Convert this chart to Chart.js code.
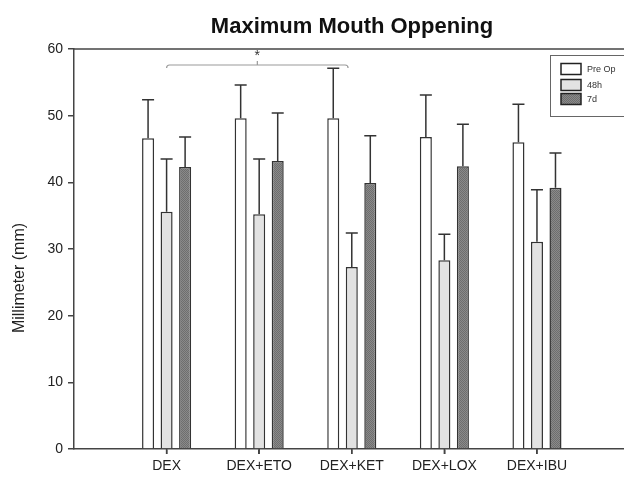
<!DOCTYPE html>
<html>
<head>
<meta charset="utf-8">
<script src="https://cdn.jsdelivr.net/npm/chart.js@4.4.1/dist/chart.umd.min.js"></script>
<style>
  html, body { margin: 0; padding: 0; background: #fff; }
  #wrap { width: 624px; height: 477px; }
</style>
</head>
<body>
<div id="wrap"><canvas id="mouthChart"></canvas></div>
<script>
// groups and series
const groups = ['DEX', 'DEX+ETO', 'DEX+KET', 'DEX+LOX', 'DEX+IBU'];
const preOp = [46.6, 49.6, 49.6, 46.8, 46.0];
const h48 = [35.6, 35.2, 27.3, 28.3, 31.1];
const d7 = [42.3, 43.2, 39.9, 42.4, 39.2];
// upper error (SD)
const preOpErr = [5.8, 5.0, 7.5, 6.3, 5.7];
const h48Err = [7.9, 8.3, 5.1, 3.9, 7.8];
const d7Err = [4.5, 7.2, 7.1, 6.3, 5.2];
const yTicks = [0, 10, 20, 30, 40, 50, 60];

// dotted gray fill for the 7d bars
function dotPattern() {
  const c = document.createElement('canvas');
  c.width = 2; c.height = 2;
  const g = c.getContext('2d');
  g.fillStyle = '#8a8a8a'; g.fillRect(0, 0, 2, 2);
  g.fillStyle = '#6e6e6e'; g.fillRect(0, 0, 1, 1); g.fillRect(1, 1, 1, 1);
  return g.createPattern(c, 'repeat');
}
const darkFill = dotPattern();

const toPoints = arr => arr.map((v, i) => ({ x: i + 1, y: v }));

const errorBars = {
  id: 'errorBars',
  afterDatasetsDraw(chart) {
    const ctx = chart.ctx;
    const ys = chart.scales.y;
    ctx.save();
    ctx.strokeStyle = '#333';
    ctx.lineWidth = 1.5;
    chart.data.datasets.forEach((ds, di) => {
      const meta = chart.getDatasetMeta(di);
      meta.data.forEach((bar, i) => {
        const top = ys.getPixelForValue(ds.data[i].y + ds.err[i]);
        const half = bar.width / 2;
        ctx.beginPath();
        ctx.moveTo(bar.x, bar.y);
        ctx.lineTo(bar.x, top);
        ctx.moveTo(bar.x - half, top);
        ctx.lineTo(bar.x + half, top);
        ctx.stroke();
      });
    });
    ctx.restore();
  }
};

const decorations = {
  id: 'decorations',
  afterDraw(chart) {
    const ctx = chart.ctx;
    const area = chart.chartArea;
    const xs = chart.scales.x, ys = chart.scales.y;
    ctx.save();
    // top frame line
    ctx.strokeStyle = '#444';
    ctx.lineWidth = 1.5;
    ctx.beginPath();
    ctx.moveTo(area.left, area.top);
    ctx.lineTo(area.right, area.top);
    ctx.stroke();

    // small tick marks under the categories
    ctx.beginPath();
    groups.forEach((g, i) => {
      const px = xs.getPixelForValue(i + 1);
      ctx.moveTo(px, area.bottom);
      ctx.lineTo(px, area.bottom + 5);
    });
    ctx.stroke();

    // title
    ctx.fillStyle = '#111';
    ctx.font = 'bold 22px "Liberation Sans", Arial, sans-serif';
    ctx.textAlign = 'center';
    ctx.textBaseline = 'alphabetic';
    ctx.fillText('Maximum Mouth Oppening', 352, 33);

    // y axis title
    ctx.textBaseline = 'middle';
    ctx.save();
    ctx.translate(20, 278);
    ctx.rotate(-Math.PI / 2);
    ctx.font = '16px "Liberation Sans", Arial, sans-serif';
    ctx.fillStyle = '#222';
    ctx.fillText('Millimeter (mm)', 0, 0);
    ctx.restore();

    // significance bracket DEX vs DEX+KET
    const x1 = xs.getPixelForValue(1), x2 = xs.getPixelForValue(2.96);
    const by = ys.getPixelForValue(57.6);
    const mid = (x1 + x2) / 2;
    ctx.strokeStyle = '#999';
    ctx.lineWidth = 1.2;
    ctx.beginPath();
    ctx.moveTo(x1, by + 3);
    ctx.quadraticCurveTo(x1, by, x1 + 3, by);
    ctx.lineTo(x2 - 3, by);
    ctx.quadraticCurveTo(x2, by, x2, by + 3);
    ctx.moveTo(mid, by);
    ctx.lineTo(mid, by - 4);
    ctx.stroke();
    ctx.fillStyle = '#333';
    ctx.font = '14px "Liberation Sans", Arial, sans-serif';
    ctx.fillText('*', mid, by - 9);

    // legend box
    ctx.fillStyle = '#fff';
    ctx.strokeStyle = '#666';
    ctx.lineWidth = 1;
    ctx.fillRect(550.5, 55.5, 90, 61);
    ctx.strokeRect(550.5, 55.5, 90, 61);
    const rows = [63.5, 79.5, 93.5];
    chart.data.datasets.forEach((ds, i) => {
      ctx.fillStyle = ds.backgroundColor;
      ctx.fillRect(561, rows[i], 20, 11);
      ctx.strokeStyle = '#222';
      ctx.lineWidth = 1.5;
      ctx.strokeRect(561, rows[i], 20, 11);
      ctx.fillStyle = '#333';
      ctx.font = '9px "Liberation Sans", Arial, sans-serif';
      ctx.textAlign = 'left';
      ctx.fillText(ds.label, 587, rows[i] + 6);
    });
    ctx.restore();
  }
};

const barStyle = { borderColor: '#333', borderWidth: 1.5, categoryPercentage: 0.6, barPercentage: 0.65 };

new Chart(document.getElementById('mouthChart').getContext('2d'), {
  type: 'bar',
  data: {
    datasets: [
      Object.assign({ label: 'Pre Op', data: toPoints(preOp), err: preOpErr, backgroundColor: '#ffffff' }, barStyle),
      Object.assign({ label: '48h', data: toPoints(h48), err: h48Err, backgroundColor: '#e2e2e2' }, barStyle),
      Object.assign({ label: '7d', data: toPoints(d7), err: d7Err, backgroundColor: darkFill }, barStyle)
    ]
  },
  options: {
    responsive: true,
    maintainAspectRatio: false,
    animation: false,
    layout: { padding: { top: 49, right: 0, left: 0, bottom: 0 } },
    plugins: { legend: { display: false }, tooltip: { enabled: false } },
    scales: {
      x: {
        type: 'linear',
        min: 0,
        max: 5.94,
        offset: false,
        afterBuildTicks: s => { s.ticks = groups.map((g, i) => ({ value: i + 1 })); },
        afterFit: s => { s.height = 28; },
        ticks: {
          callback: v => groups[v - 1] || '',
          color: '#222',
          font: { family: '"Liberation Sans", Arial, sans-serif', size: 14 },
          maxRotation: 0,
          padding: 4
        },
        grid: { offset: false, drawOnChartArea: false, tickLength: 5, color: '#444', lineWidth: 1.5 },
        border: { color: '#444', width: 1.5 }
      },
      y: {
        min: 0,
        max: 60,
        afterBuildTicks: s => { s.ticks = yTicks.map(v => ({ value: v })); },
        afterFit: s => { s.width = 74; },
        ticks: {
          color: '#222',
          font: { family: '"Liberation Sans", Arial, sans-serif', size: 14 },
          padding: 5
        },
        grid: { drawOnChartArea: false, tickLength: 6, color: '#444', lineWidth: 1.5 },
        border: { color: '#444', width: 1.5 }
      }
    }
  },
  plugins: [errorBars, decorations]
});
</script>
</body>
</html>
